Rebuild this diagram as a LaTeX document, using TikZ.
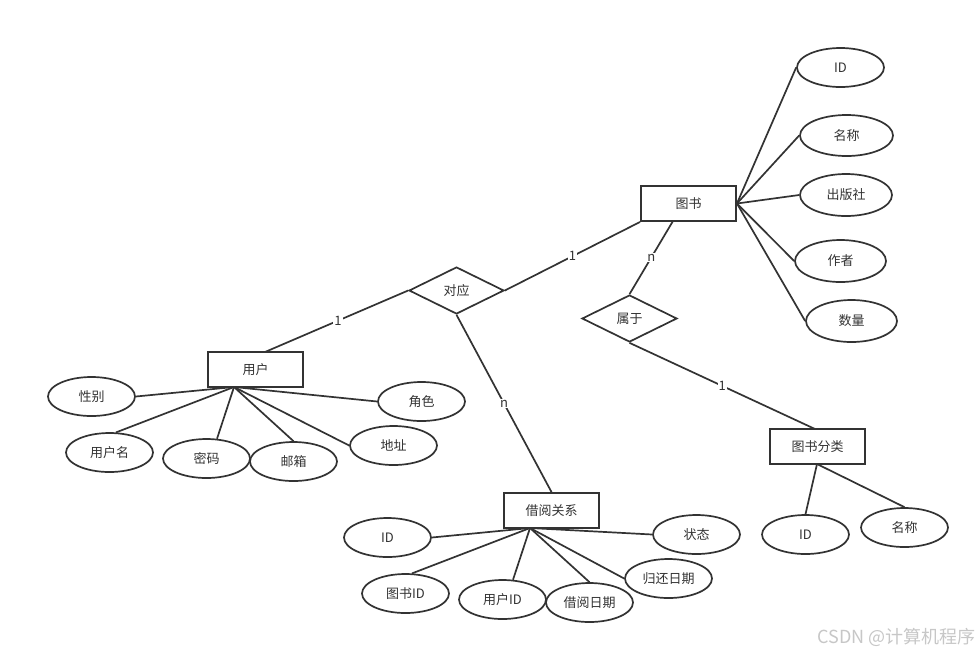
\documentclass[tikz,border=0pt]{standalone}
\usepackage{fontspec}
\setmainfont{Noto Sans CJK SC}
\usetikzlibrary{shapes.geometric}
\definecolor{ink}{HTML}{333333}
\tikzset{
  ent/.style={draw=ink, line width=1.9pt, minimum width=95pt, minimum height=35pt, inner sep=0pt, font=\fontsize{13}{15}\selectfont, text=ink},
  rel/.style={draw=ink, line width=1.7pt, diamond, aspect=2.02, minimum width=95pt, minimum height=47pt, inner sep=0pt, font=\fontsize{13}{15}\selectfont, text=ink},
  attr/.style={draw=ink, line width=1.7pt, ellipse, minimum width=87pt, minimum height=39pt, inner sep=0pt, font=\fontsize{13}{15}\selectfont, text=ink},
  lnk/.style={draw=ink, line width=1.7pt},
  card/.style={fill=white, inner sep=1pt, font=\fontsize{13}{15}\selectfont, text=ink}
}
\begin{document}
\begin{tikzpicture}[x=1pt,y=-1pt]
\useasboundingbox[fill=white] (0,0) rectangle (979,654);
% entities
\node[ent] (book) at (688.5,203.5) {图书};
\node[ent] (user) at (255.5,369.5) {用户};
\node[ent] (borrow) at (551.5,510.5) {借阅关系};
\node[ent] (cat) at (817.5,446.5) {图书分类};
% relations
\node[rel] (dy) at (456.5,290.5) {对应};
\node[rel] (sy) at (629.5,318.5) {属于};
% book attributes
\node[attr] (bid) at (840.5,67.5) {ID};
\node[attr, minimum width=93pt, minimum height=41pt] (bname) at (846.5,135.5) {名称};
\node[attr, minimum width=92pt, minimum height=42pt] (bpub) at (846,195) {出版社};
\node[attr, minimum width=91pt, minimum height=42pt] (bauth) at (840.5,261) {作者};
\node[attr, minimum width=91pt, minimum height=42pt] (bnum) at (851.5,321) {数量};
% user attributes
\node[attr] (usex) at (91.5,396.5) {性别};
\node[attr] (uname) at (109.5,452.5) {用户名};
\node[attr] (upwd) at (206.5,458.5) {密码};
\node[attr] (umail) at (293.5,461.5) {邮箱};
\node[attr] (urole) at (421.5,401.5) {角色};
\node[attr] (uaddr) at (393.5,445.5) {地址};
% borrow attributes
\node[attr] (rid) at (387.5,537.5) {ID};
\node[attr] (rbid) at (405.5,593.5) {图书ID};
\node[attr] (ruid) at (502.5,599.5) {用户ID};
\node[attr] (rdate) at (589.5,602.5) {借阅日期};
\node[attr] (rret) at (668.5,578.5) {归还日期};
\node[attr] (rstat) at (696.5,534.5) {状态};
% category attributes
\node[attr] (cid) at (805.5,534.5) {ID};
\node[attr] (cname) at (904.5,527.5) {名称};
% hubs
\coordinate (bhub) at (book.east);
\coordinate (uhub) at (234,387);
\coordinate (rhub) at (530,528);
\coordinate (chub) at (817,464);
\coordinate (btop) at (673,221);
\coordinate (utop) at (265,352);
\coordinate (ctop) at (815,429);
% book lines
\draw[lnk] (bhub) -- (bid.west);
\draw[lnk] (bhub) -- (bname.west);
\draw[lnk] (bhub) -- (bpub.west);
\draw[lnk] (bhub) -- (bauth.west);
\draw[lnk] (bhub) -- (bnum.west);
% user lines
\draw[lnk] (uhub) -- (usex.east);
\draw[lnk] (uhub) -- (uname.72);
\draw[lnk] (uhub) -- (upwd.62);
\draw[lnk] (uhub) -- (umail.north);
\draw[lnk] (uhub) -- (uaddr.west);
\draw[lnk] (uhub) -- (urole.west);
% borrow lines
\draw[lnk] (rhub) -- (rid.east);
\draw[lnk] (rhub) -- (rbid.72);
\draw[lnk] (rhub) -- (ruid.62);
\draw[lnk] (rhub) -- (rdate.north);
\draw[lnk] (rhub) -- (rret.west);
\draw[lnk] (rhub) -- (rstat.west);
% category lines
\draw[lnk] (chub) -- (cid.north);
\draw[lnk] (chub) -- (cname.north);
% relationship lines
\draw[lnk] (dy.east) -- node[card, pos=0.5] {1} (book.south west);
\draw[lnk] (dy.west) -- node[card, pos=0.49] {1} (utop);
\draw[lnk] (dy.south) -- node[card, pos=0.50] {n} (borrow.north);
\draw[lnk] (sy.north) -- node[card, pos=0.5] {n} (btop);
\draw[lnk] (sy.south) -- node[card, pos=0.5] {1} (ctop);
% watermark
\node[anchor=east, text=black!22, font=\fontsize{18}{20}\selectfont, inner sep=0pt] (wm) at (976,637) {CSDN @计算机程序};
\end{tikzpicture}
\end{document}
